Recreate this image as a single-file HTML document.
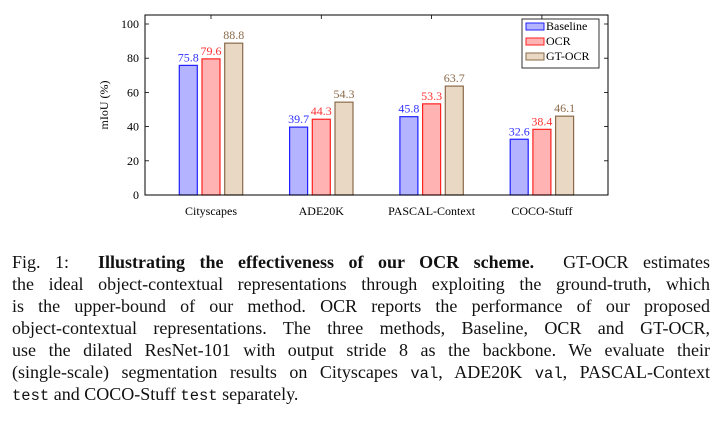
<!DOCTYPE html>
<html><head><meta charset="utf-8">
<style>
body{margin:0;background:#fff;width:726px;height:421px;overflow:hidden;position:relative;font-family:"Liberation Serif",serif}
.cap{position:absolute;left:12px;width:698px;font-size:18px;color:#111}
.cap div{height:22px;line-height:22px;white-space:nowrap;text-align:justify;text-align-last:justify}
.cap div.last{text-align-last:left}
.tt{font-family:"Liberation Mono",monospace;font-size:15.5px}
</style></head><body>
<svg id="chart" width="726" height="240" style="position:absolute;left:0;top:0" font-family="Liberation Serif, serif"></svg>
<div class="cap" style="top:251px">
<div>Fig. 1:&nbsp; <b>Illustrating the effectiveness of our OCR scheme.</b>&nbsp; GT-OCR estimates</div>
<div>the ideal object-contextual representations through exploiting the ground-truth, which</div>
<div>is the upper-bound of our method. OCR reports the performance of our proposed</div>
<div>object-contextual representations. The three methods, Baseline, OCR and GT-OCR,</div>
<div>use the dilated ResNet-101 with output stride 8 as the backbone. We evaluate their</div>
<div>(single-scale) segmentation results on Cityscapes <span class="tt">val</span>, ADE20K <span class="tt">val</span>, PASCAL-Context</div>
<div class="last"><span class="tt">test</span> and COCO-Stuff <span class="tt">test</span> separately.</div>
</div>
<script>
const categories=["Cityscapes","ADE20K","PASCAL-Context","COCO-Stuff"];
const seriesNames=["Baseline","OCR","GT-OCR"];
const baseline=[75.8,39.7,45.8,32.6];
const ocr=[79.6,44.3,53.3,38.4];
const gtocr=[88.8,54.3,63.7,46.1];
const yTicks=[0,20,40,60,80,100];
const fills=["#b3b3ff","#ffb3b3","#e9d8c3"];
const strokes=["#2020ff","#ff2020","#8a6a4a"];
const labelColors=["#3030ff","#ff3030","#8a6a4a"];
const series=[baseline,ocr,gtocr];
const svg=document.getElementById('chart');
const NS="http://www.w3.org/2000/svg";
const L=145,R=608,T=15,B=195,y0=195,y100=24;
const y=v=>y0-(y0-y100)*v/100;
const x=i=>211+i*110.3;
function mk(t,a,txt){const e=document.createElementNS(NS,t);for(const k in a)e.setAttribute(k,a[k]);if(txt!==undefined)e.textContent=txt;svg.appendChild(e);return e;}
yTicks.forEach(v=>{
 const g=mk('line',{x1:L,x2:L+4,y1:y(v),y2:y(v),stroke:'#000','stroke-width':0.8});
 
 mk('line',{x1:R-4,x2:R,y1:y(v),y2:y(v),stroke:'#000','stroke-width':0.8});
 const t=mk('text',{x:L-6,y:y(v)+4,'text-anchor':'end','font-size':12},v);
 
});
categories.forEach((c,i)=>{
 mk('line',{x1:x(i),x2:x(i),y1:T,y2:T+4,stroke:'#000','stroke-width':0.8});
 const t=mk('text',{x:x(i),y:215,'text-anchor':'middle','font-size':12},c);
 
 series.forEach((s,j)=>{
  const cx=x(i)+(j-1)*22.7;
  const r=mk('rect',{x:cx-9,y:y(s[i]),width:18,height:y(0)-y(s[i]),fill:fills[j],stroke:strokes[j],'stroke-width':1.2});
  
  
  const t=mk('text',{x:cx,y:y(s[i])-4,'text-anchor':'middle','font-size':12,fill:labelColors[j]},s[i].toFixed(1));
  
 });
});
const f=mk('rect',{x:L,y:T,width:R-L,height:B-T,fill:'none',stroke:'#000','stroke-width':1});

const yt=mk('text',{x:0,y:0,'text-anchor':'middle','font-size':12,transform:`translate(108,${(T+B)/2}) rotate(-90)`},'mIoU (%)');

const lg=mk('rect',{x:522,y:19,width:77,height:49,fill:'#fff',stroke:'#000','stroke-width':0.8});

seriesNames.forEach((n,j)=>{
 const yy=23+j*15;
 const r=mk('rect',{x:526,y:yy,width:18,height:7,fill:fills[j],stroke:strokes[j],'stroke-width':1});
 
 const t=mk('text',{x:546,y:yy+7,'font-size':12},n);
 
});
</script>
</body></html>
